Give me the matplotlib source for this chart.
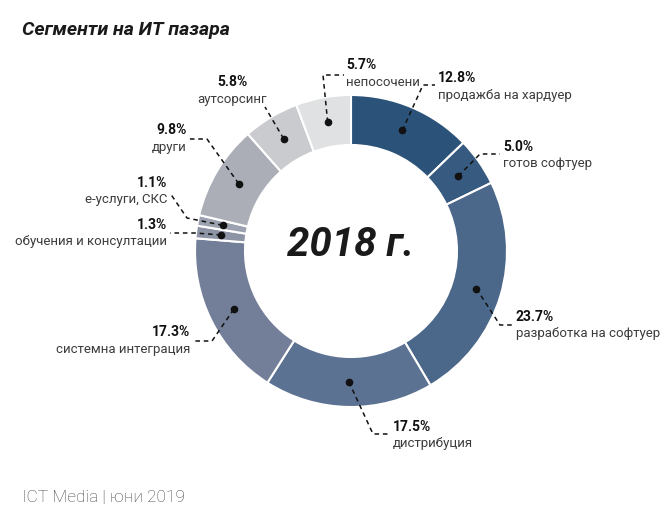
import numpy as np
import matplotlib
matplotlib.use("Agg")
import matplotlib.pyplot as plt

plt.rcParams['font.family'] = ['Roboto', 'DejaVu Sans']

# данни
segments = ["продажба на хардуер", "готов софтуер", "разработка на софтуер",
            "дистрибуция", "системна интеграция", "обучения и консултации",
            "е-услуги, СКС", "други", "аутсорсинг", "непосочени"]
shares = [12.8, 5.0, 23.7, 17.5, 17.3, 1.3, 1.1, 9.8, 5.8, 5.7]
colors = ["#2b5279", "#375a80", "#4b678a", "#5c7292", "#737f99",
          "#8d94a6", "#9da2b0", "#abaeb7", "#cacbcf", "#e0e1e2"]

# разположение на надписите (пиксели): текст x, y, подравняване, чупка на линията, край на линията
cx, cy = 351, 251
r_out, r_in = 156, 106
layout = [
    (438, 78, 'left', (423, 85), (435, 85)),
    (503, 147, 'left', (480, 154), (500, 154)),
    (516, 317, 'left', (500, 325), (514, 325)),
    (393, 427, 'left', (373, 434), (390, 434)),
    (190, 332, 'right', (212, 341), (192, 341)),
    (167, 225, 'right', (195, 233), (170, 233)),
    (167, 183, 'right', (187, 218), (170, 193)),
    (187, 130, 'right', (207, 139), (188, 139)),
    (232, 82, 'center', (265, 107), (265, 107)),
    (346, 65, 'left', (323, 75), (344, 75)),
]

fig = plt.figure(figsize=(6.66, 5.18), dpi=100)
ax = fig.add_axes([0, 0, 1, 1])

wedges, _ = ax.pie(shares, colors=colors, startangle=-90, counterclock=True,
                   center=(cx, cy), radius=r_out,
                   wedgeprops=dict(width=r_out - r_in, edgecolor='white', linewidth=1.5))
ax.set_xlim(0, 666)
ax.set_ylim(518, 0)
ax.set_aspect('auto')
ax.axis('off')

r_dot = (r_out + r_in) / 2
for w, name, val, (tx, ty, ha, elbow, end) in zip(wedges, segments, shares, layout):
    ang = np.deg2rad((w.theta1 + w.theta2) / 2)
    dx = cx + r_dot * np.cos(ang)
    dy = cy + r_dot * np.sin(ang)
    ax.plot([dx, elbow[0], end[0]], [dy, elbow[1], end[1]], color='#111111',
            lw=1.1, ls=(0, (3, 2.5)))
    ax.plot(dx, dy, 'o', color='#111111', ms=4.5)
    ax.text(tx, ty, f"{val:.1f}%", ha=ha, va='center', fontsize=10,
            fontweight='bold', color='#111111')
    ax.text(tx, ty + 17, name, ha=ha, va='center', fontsize=9.5, color='#3c3c3c')

ax.text(cx, cy - 6, "2018 г.", ha='center', va='center', fontsize=29,
        fontweight='bold', fontstyle='italic', color='#1a1a1a')

ax.text(22, 30, "Сегменти на ИТ пазара", ha='left', va='center', fontsize=14,
        fontweight='bold', fontstyle='italic', color='#1a1a1a')
ax.text(22, 497, "ICT Media | юни 2019", ha='left', va='center', fontsize=12.5,
        fontweight='light', color='#444444')

fig.savefig("out.png", dpi=100, facecolor='white')
